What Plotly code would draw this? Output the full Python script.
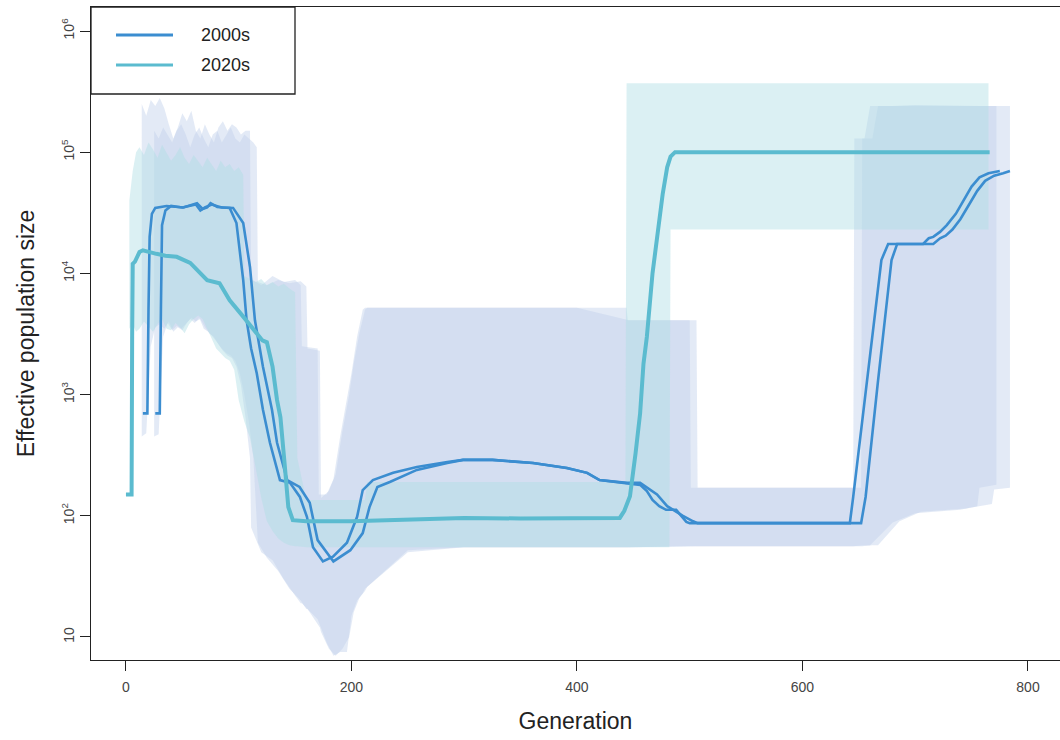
import plotly.graph_objects as go

# ---------------- data ----------------
# 2000s, replicate A (left line)
gen_2000s_a = [15, 19, 20, 21, 23, 26, 36, 51, 63, 68, 72, 75, 81, 92, 98, 104, 107, 111, 116, 121.5,
               127.7, 136.6, 145.5, 154.3, 160.5, 165.9, 174.7, 183.6, 196, 205, 210, 219, 237, 258, 285,
               299, 325, 361, 391, 409, 420, 444, 456, 462, 467, 473, 479, 488, 497, 500, 642, 645, 657,
               666, 670, 676, 707, 712, 716, 722, 728, 736, 743, 750, 757, 765, 775]
ne_2000s_a = [700, 700, 5000, 20000, 31000, 34700, 36000, 35000, 38000, 34000, 35000, 38000, 35300, 34700,
              26000, 8800, 4100, 2400, 1500, 750, 400, 197, 187, 143, 98, 55, 42, 46, 60, 98, 163, 197,
              226, 253, 278, 289, 289, 273, 248, 226, 197, 187, 180, 160, 135, 120, 112, 112, 89, 87, 87,
              143, 1300, 6400, 12900, 17500, 17500, 19500, 20000, 22000, 25000, 31000, 40000, 52000,
              62000, 67000, 70000]

# 2000s, replicate B (right line)
gen_2000s_b = [26, 30, 31, 32, 35, 40, 50, 62, 66, 70, 76, 85, 95, 104, 110, 114.4, 121.5, 129.5, 134,
               143, 154, 163, 170, 184, 199, 210, 216, 223, 234, 258, 285, 299, 325, 361, 391, 409, 420,
               444, 456, 466, 471, 480, 485, 494, 503, 507, 652, 656, 667, 675, 679, 684, 716, 722, 727,
               733, 740, 747, 755, 762, 770, 778, 784]
ne_2000s_b = [700, 700, 5000, 25000, 33000, 36000, 35000, 37000, 33000, 35000, 37000, 35000, 34700, 26000,
              11300, 4100, 1700, 750, 400, 197, 173, 128, 63, 42, 52, 72, 118, 173, 190, 239, 273, 289,
              289, 273, 248, 226, 197, 187, 187, 160, 150, 120, 112, 100, 90, 87, 87, 143, 1300, 6400,
              12900, 17500, 17500, 19500, 20500, 23000, 28000, 36000, 48000, 58000, 64000, 67000, 70000]

# 2020s
gen_2020s = [0, 5, 5.5, 6, 8, 12, 15, 20, 27, 35, 45, 57, 66, 72, 83, 92, 104, 116, 121, 125, 130, 134,
             137, 141, 144, 148, 160, 200, 250, 300, 350, 400, 432, 438, 442, 447, 452, 456, 459, 462,
             467, 472, 476, 480, 483, 487, 766]
ne_2020s = [150, 150, 3000, 12000, 12500, 15000, 15500, 15000, 14500, 14000, 13700, 12200, 10000, 8800,
            8300, 6000, 4400, 3200, 2800, 2700, 1700, 900, 650, 250, 118, 92, 90, 90, 93, 96, 95, 95, 95,
            96, 110, 145, 330, 700, 1800, 3000, 10000, 25000, 45000, 75000, 92000, 100000, 100000]

# confidence bands, 2000s replicate A
band_a_gen = [14, 18, 22, 26, 30, 34, 38, 42, 46, 50, 54, 58, 62, 66, 70, 74, 78, 82, 86, 90, 94, 98, 102,
              106, 110, 111, 120, 130, 140, 150, 155, 156, 170, 171, 178, 184, 190, 196, 200, 205, 210,
              212, 250, 300, 400, 444, 445, 500, 501, 600, 645, 646, 655, 660, 680, 700, 740, 755, 757, 772]
band_a_low = [450, 480, 2500, 3600, 3800, 3500, 4000, 3300, 3600, 3400, 3900, 4300, 4000, 4200, 3600, 3200,
              3000, 2600, 2300, 2100, 2000, 1700, 1200, 650, 300, 80, 50, 43, 30, 22, 19, 19, 14, 13, 9, 7,
              7.5, 7.5, 15, 20, 23, 25, 50, 55, 55, 55, 55, 56, 56, 56, 56, 56, 57, 57, 88, 105, 112, 120,
              170, 180]
band_a_up = [250000, 200000, 270000, 240000, 280000, 230000, 170000, 130000, 160000, 210000, 180000, 220000,
             150000, 130000, 170000, 140000, 120000, 160000, 180000, 150000, 170000, 160000, 140000, 150000,
             150000, 9000, 8000, 9500, 8500, 8800, 8000, 2500, 2400, 150, 150, 200, 450, 900, 1500, 3000,
             5000, 5200, 5200, 5200, 5200, 5200, 4100, 4100, 170, 170, 170, 130000, 130000, 240000, 240000,
             245000, 240000, 240000, 240000, 240000]

# confidence bands, 2000s replicate B
band_b_gen = [25, 29, 33, 37, 41, 45, 49, 53, 57, 61, 65, 69, 73, 77, 81, 85, 89, 93, 97, 101, 105, 109, 113,
              116, 117, 125, 135, 145, 155, 160, 161, 172, 173, 180, 186, 192, 198, 202, 207, 212, 214,
              250, 300, 400, 446, 447, 506, 507, 600, 652, 653, 662, 667, 686, 705, 745, 768, 770, 784]
band_b_low = [450, 470, 3000, 3900, 3400, 3700, 3500, 3800, 4200, 3900, 4300, 3500, 3300, 3000, 2700, 2400,
              2200, 2100, 1900, 1500, 1000, 600, 300, 90, 60, 45, 35, 25, 20, 17, 17, 12, 11, 8, 7, 8, 10,
              16, 21, 24, 26, 52, 55, 55, 55, 55, 56, 56, 56, 56, 56, 57, 57, 90, 108, 115, 125, 165, 170]
band_b_up = [150000, 130000, 160000, 140000, 120000, 150000, 170000, 140000, 110000, 140000, 160000, 130000,
             110000, 140000, 150000, 120000, 140000, 160000, 130000, 120000, 140000, 130000, 120000, 110000,
             8500, 8000, 8800, 8300, 8600, 7800, 2400, 2300, 140, 160, 220, 500, 1000, 1800, 3200, 5000,
             5200, 5200, 5200, 5200, 4100, 4100, 4100, 170, 170, 170, 130000, 130000, 240000, 240000,
             240000, 240000, 240000, 240000, 240000]

# confidence band, 2020s
band_c_gen = [3, 6, 9, 12, 16, 20, 24, 28, 32, 36, 40, 44, 48, 52, 56, 60, 64, 68, 72, 76, 80, 84, 88, 92,
              96, 100, 104, 105, 110, 115, 120, 125, 130, 135, 140, 145, 150, 152, 160, 212, 214, 300, 400,
              443, 444, 482, 483, 600, 700, 765]
band_c_low = [3500, 3800, 3300, 3500, 4000, 3600, 3300, 3800, 4200, 3500, 3400, 3900, 3600, 3200, 3800, 4200,
              4500, 4200, 3500, 2900, 2400, 2200, 2000, 1900, 1600, 900, 650, 600, 440, 250, 140, 90, 75, 65,
              60, 57, 56, 56, 55, 55, 55, 55, 55, 55, 55, 55, 23000, 23000, 23000, 23000]
band_c_up = [40000, 70000, 100000, 110000, 95000, 120000, 105000, 90000, 115000, 100000, 85000, 95000,
             110000, 90000, 80000, 95000, 85000, 75000, 90000, 80000, 70000, 85000, 75000, 80000, 70000,
             75000, 65000, 9500, 9000, 8500, 9000, 8000, 8500, 7800, 8200, 7500, 7000, 300, 135, 135, 190,
             190, 190, 190, 370000, 370000, 370000, 370000, 370000, 370000]

x_ticks = [0, 200, 400, 600, 800]
y_ticks = [10, 100, 1000, 10000, 100000, 1000000]
y_tick_text = ["10", "10<sup>2</sup>", "10<sup>3</sup>", "10<sup>4</sup>", "10<sup>5</sup>", "10<sup>6</sup>"]
series_names = ["2000s", "2020s"]

# ---------------- styling ----------------
c2000 = "#3b8dd0"
c2020 = "#5bbbcf"
fill2000 = "rgba(194,208,235,0.45)"
fill2020 = "rgba(176,221,228,0.45)"
FONT = "Liberation Sans, Arial, sans-serif"

fig = go.Figure()


def band(g, lo, up, color):
    fig.add_trace(go.Scatter(x=list(g) + list(g)[::-1], y=list(up) + list(lo)[::-1],
                             fill="toself", fillcolor=color, line=dict(width=0),
                             mode="lines", hoverinfo="skip", showlegend=False))


band(band_a_gen, band_a_low, band_a_up, fill2000)
band(band_b_gen, band_b_low, band_b_up, fill2000)
band(band_c_gen, band_c_low, band_c_up, fill2020)

fig.add_trace(go.Scatter(x=gen_2000s_a, y=ne_2000s_a, mode="lines", name=series_names[0],
                         line=dict(color=c2000, width=2.6), showlegend=False))
fig.add_trace(go.Scatter(x=gen_2000s_b, y=ne_2000s_b, mode="lines", name=series_names[0],
                         line=dict(color=c2000, width=2.6), showlegend=False))
fig.add_trace(go.Scatter(x=gen_2020s, y=ne_2020s, mode="lines", name=series_names[1],
                         line=dict(color=c2020, width=4), showlegend=False))

# plot area: x 91..1060 px, y 7..660 px
W, H = 1060, 740
L, R, T, B = 91, 0, 7, 80
pw, ph = W - L - R, H - T - B


def px(xp):
    return (xp - L) / pw


def py(yp):
    return (H - B - yp) / ph


shapes = [
    dict(type="rect", xref="paper", yref="paper", x0=0, x1=px(295), y0=py(94), y1=1,
         fillcolor="white", line=dict(color="#222", width=1.3), layer="above"),
    dict(type="line", xref="paper", yref="paper", x0=px(116), x1=px(173), y0=py(35), y1=py(35),
         line=dict(color=c2000, width=3), layer="above"),
    dict(type="line", xref="paper", yref="paper", x0=px(116), x1=px(173), y0=py(65), y1=py(65),
         line=dict(color=c2020, width=3), layer="above"),
]
annotations = [
    dict(xref="paper", yref="paper", x=px(199), y=py(35), text=series_names[0], showarrow=False,
         xanchor="left", yanchor="middle", font=dict(family=FONT, size=18, color="#222")),
    dict(xref="paper", yref="paper", x=px(199), y=py(65), text=series_names[1], showarrow=False,
         xanchor="left", yanchor="middle", font=dict(family=FONT, size=18, color="#222")),
]

fig.update_layout(
    width=W, height=H,
    margin=dict(l=L, r=R, t=T, b=B, autoexpand=False),
    paper_bgcolor="white", plot_bgcolor="white",
    font=dict(family=FONT, color="#333"),
    shapes=shapes, annotations=annotations,
    showlegend=False,
    xaxis=dict(range=[-31, 828.4], tickvals=x_ticks, ticks="outside", ticklen=10, tickwidth=1,
               tickcolor="#222", showline=True, linecolor="#222", linewidth=1.3, mirror=True,
               showgrid=False, zeroline=False, tickfont=dict(size=14, color="#444"),
               ticklabelstandoff=4,
               title=dict(text="Generation", font=dict(size=23, color="#222"), standoff=18)),
    yaxis=dict(type="log", range=[0.81, 6.198], tickvals=y_ticks, ticktext=y_tick_text, tickangle=-90,
               ticks="outside", ticklen=10, tickwidth=1, tickcolor="#222", showline=True,
               linecolor="#222", linewidth=1.3, mirror=False, showgrid=False, zeroline=False,
               tickfont=dict(size=14, color="#444"),
               title=dict(text="Effective population size", font=dict(size=23, color="#222"), standoff=18)),
)

fig.write_html("out.html")
